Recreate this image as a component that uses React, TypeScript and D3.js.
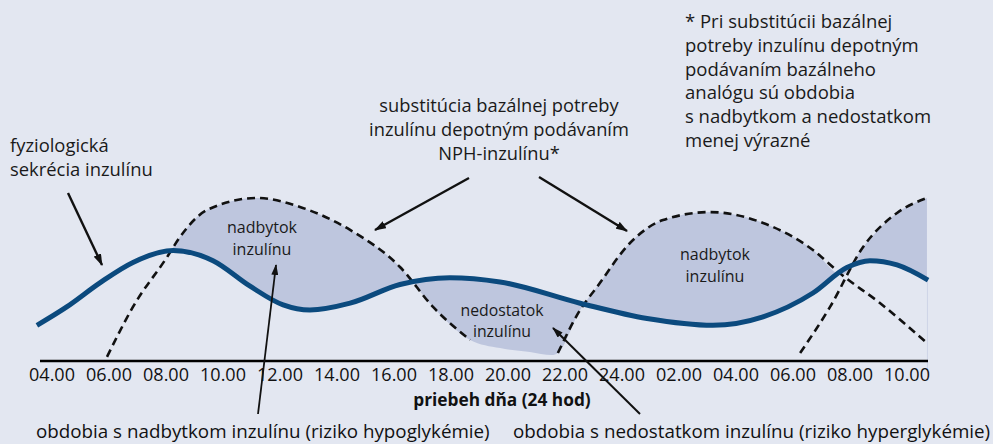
import { useMemo } from "react";
import * as d3 from "d3";

const W = 993;
const H = 444;

// time axis: hours from 04.00 on day 1 (4) to 10.00 on day 2 (34)
const tickHours = [4, 6, 8, 10, 12, 14, 16, 18, 20, 22, 24, 26, 28, 30, 32, 34];
const tickLabels = [
  "04.00", "06.00", "08.00", "10.00", "12.00", "14.00", "16.00", "18.00",
  "20.00", "22.00", "24.00", "02.00", "04.00", "06.00", "08.00", "10.00",
];

// physiological insulin secretion (solid blue), relative level 0..100
const physHours = [3.47, 4.53, 5.68, 6.84, 8.25, 9.65, 10.95, 12.11, 13.05, 14.46, 16.21, 17.96, 19.72, 22.53, 24.88, 27.19, 28.95, 30.7, 31.89, 32.7, 33.65, 34.74];
const physLevels = [21, 32, 46, 58, 65, 59, 44, 33, 30, 34, 45, 49, 46.5, 34, 25, 21, 26, 40, 55, 59, 56.5, 47.6];

// NPH insulin doses (dashed)
const nph1Hours = [5.93, 6.84, 8.04, 8.49, 9.44, 11.19, 12.7, 14.46, 16.21, 17.37, 18.67];
const nph1Levels = [2.4, 31.8, 61.2, 72.9, 88.8, 95.9, 90.6, 77.1, 55.3, 31.8, 12.4];
const nph2Hours = [21.75, 22.53, 23.12, 24.28, 25.44, 27.09, 28.95, 30.7, 31.72, 33.05, 34.7];
const nph2Levels = [4.7, 30, 43.5, 69.4, 82.9, 87.6, 81.2, 65.3, 50.6, 34.1, 10.6];
const nph3Hours = [30.25, 31.3, 32.46, 33.65, 34.7];
const nph3Levels = [4.7, 31.8, 67.1, 87.1, 95.9];
// tail of the first dose where no dashed line is drawn (shaded edge only)
const tailHours = [19.72, 20.77, 21.54];
const tailLevels = [7.6, 5.3, 3.5];

const FONT = "'Open Sans', 'Noto Sans', sans-serif";
const BG = "#e3e7f1";
const SHADE = "#bec6de";
const BLUE = "#0b4a7e";

type Pt = [number, number];
const zip = (h: number[], v: number[]): Pt[] => h.map((d, i) => [d, v[i]]);

export default function App() {
  const x = d3.scaleLinear().domain([4, 34]).range([52, 907]);
  const y = d3.scaleLinear().domain([0, 100]).range([361, 191]);

  const paths = useMemo(() => {
    const line = d3
      .line<Pt>()
      .x((d) => x(d[0]))
      .y((d) => y(d[1]))
      .curve(d3.curveMonotoneX);
    const area = d3
      .area<Pt>()
      .x((d) => x(d[0]))
      .y0(y(-8))
      .y1((d) => y(d[1]))
      .curve(d3.curveMonotoneX);

    const phys = zip(physHours, physLevels);
    const n1 = zip(nph1Hours, nph1Levels);
    const n2 = zip(nph2Hours, nph2Levels);
    const n3 = zip(nph3Hours, nph3Levels);
    // upper envelope of the NPH profile, used for the shaded difference
    const envelope: Pt[] = [
      ...n1.slice(1),
      ...zip(tailHours, tailLevels),
      ...n2.slice(0, 9),
      ...n3.slice(2),
    ];
    return {
      phys: line(phys) ?? "",
      n1: line(n1) ?? "",
      n2: line(n2) ?? "",
      n3: line(n3) ?? "",
      diff: (area(envelope) ?? "") + (area(phys) ?? ""),
    };
  }, []);

  const arrows = [
    { x1: 68, y1: 193, x2: 102, y2: 265, w: 2.4, m: "head" },
    { x1: 469, y1: 178, x2: 375, y2: 230, w: 2.4, m: "head" },
    { x1: 539, y1: 177, x2: 627, y2: 231, w: 2.4, m: "head" },
    { x1: 258, y1: 414, x2: 276, y2: 265, w: 1.8, m: "headSm" },
    { x1: 640, y1: 414, x2: 553, y2: 328, w: 2, m: "headSm" },
  ];

  const note = [
    "* Pri substitúcii bazálnej",
    "potreby inzulínu depotným",
    "podávaním bazálneho",
    "analógu sú obdobia",
    "s nadbytkom a nedostatkom",
    "menej výrazné",
  ];

  return (
    <svg
      width={W}
      height={H}
      viewBox={`0 0 ${W} ${H}`}
      style={{ position: "absolute", left: 0, top: 0, display: "block" }}
      fontFamily={FONT}
    >
      <defs>
        <clipPath id="diffClip">
          <rect x={x(8.15)} y={0} width={x(34.72) - x(8.15)} height={H} />
        </clipPath>
        <marker id="head" viewBox="0 0 12 8" refX={11} refY={4} markerWidth={12} markerHeight={8} markerUnits="userSpaceOnUse" orient="auto">
          <path d="M0,0 L12,4 L0,8 z" fill="#111" />
        </marker>
        <marker id="headSm" viewBox="0 0 11 7" refX={10} refY={3.5} markerWidth={11} markerHeight={7} markerUnits="userSpaceOnUse" orient="auto">
          <path d="M0,0 L11,3.5 L0,7 z" fill="#111" />
        </marker>
      </defs>
      <rect width={W} height={H} fill={BG} />

      <path d={paths.diff} fill={SHADE} fillRule="evenodd" clipPath="url(#diffClip)" />

      {[paths.n1, paths.n2, paths.n3].map((d, i) => (
        <path key={i} d={d} fill="none" stroke="#111" strokeWidth={2.6} strokeDasharray="8 5" />
      ))}
      <path d={paths.phys} fill="none" stroke={BLUE} strokeWidth={5} strokeLinecap="butt" />

      <line x1={40} x2={928} y1={y(0)} y2={y(0)} stroke="#000" strokeWidth={2.6} />
      {tickHours.map((h, i) => (
        <text key={i} x={x(h)} y={381} textAnchor="middle" fontSize={18} fill="#111">
          {tickLabels[i]}
        </text>
      ))}
      <text x={502} y={406} textAnchor="middle" fontSize={17.3} fontWeight="bold" fill="#111">
        priebeh dňa (24 hod)
      </text>

      {arrows.map((a, i) => (
        <line key={i} x1={a.x1} y1={a.y1} x2={a.x2} y2={a.y2} stroke="#111" strokeWidth={a.w} markerEnd={`url(#${a.m})`} />
      ))}

      <text fontSize={18.4} fill="#1a1a1a">
        <tspan x={10} y={152}>fyziologická</tspan>
        <tspan x={10} y={176}>sekrécia inzulínu</tspan>
      </text>

      <text fontSize={18.3} fill="#1a1a1a" textAnchor="middle">
        <tspan x={499} y={112}>substitúcia bazálnej potreby</tspan>
        <tspan x={499} y={136}>inzulínu depotným podávaním</tspan>
        <tspan x={499} y={160}>NPH-inzulínu*</tspan>
      </text>

      <text fontSize={18.5} fill="#1a1a1a">
        {note.map((t, i) => (
          <tspan key={i} x={685} y={28 + i * 23.8}>{t}</tspan>
        ))}
      </text>

      <text fontSize={16} fill="#1a1a1a" textAnchor="middle">
        <tspan x={262} y={233}>nadbytok</tspan>
        <tspan x={262} y={255}>inzulínu</tspan>
      </text>
      <text fontSize={16} fill="#1a1a1a" textAnchor="middle">
        <tspan x={715} y={260}>nadbytok</tspan>
        <tspan x={715} y={282}>inzulínu</tspan>
      </text>
      <text fontSize={15.8} fill="#1a1a1a" textAnchor="middle">
        <tspan x={502} y={316}>nedostatok</tspan>
        <tspan x={502} y={337}>inzulínu</tspan>
      </text>

      <text x={36} y={438} fontSize={18.8} fill="#111">
        obdobia s nadbytkom inzulínu (riziko hypoglykémie)
      </text>
      <text x={513} y={438} fontSize={18.8} fill="#111">
        obdobia s nedostatkom inzulínu (riziko hyperglykémie)
      </text>
    </svg>
  );
}
